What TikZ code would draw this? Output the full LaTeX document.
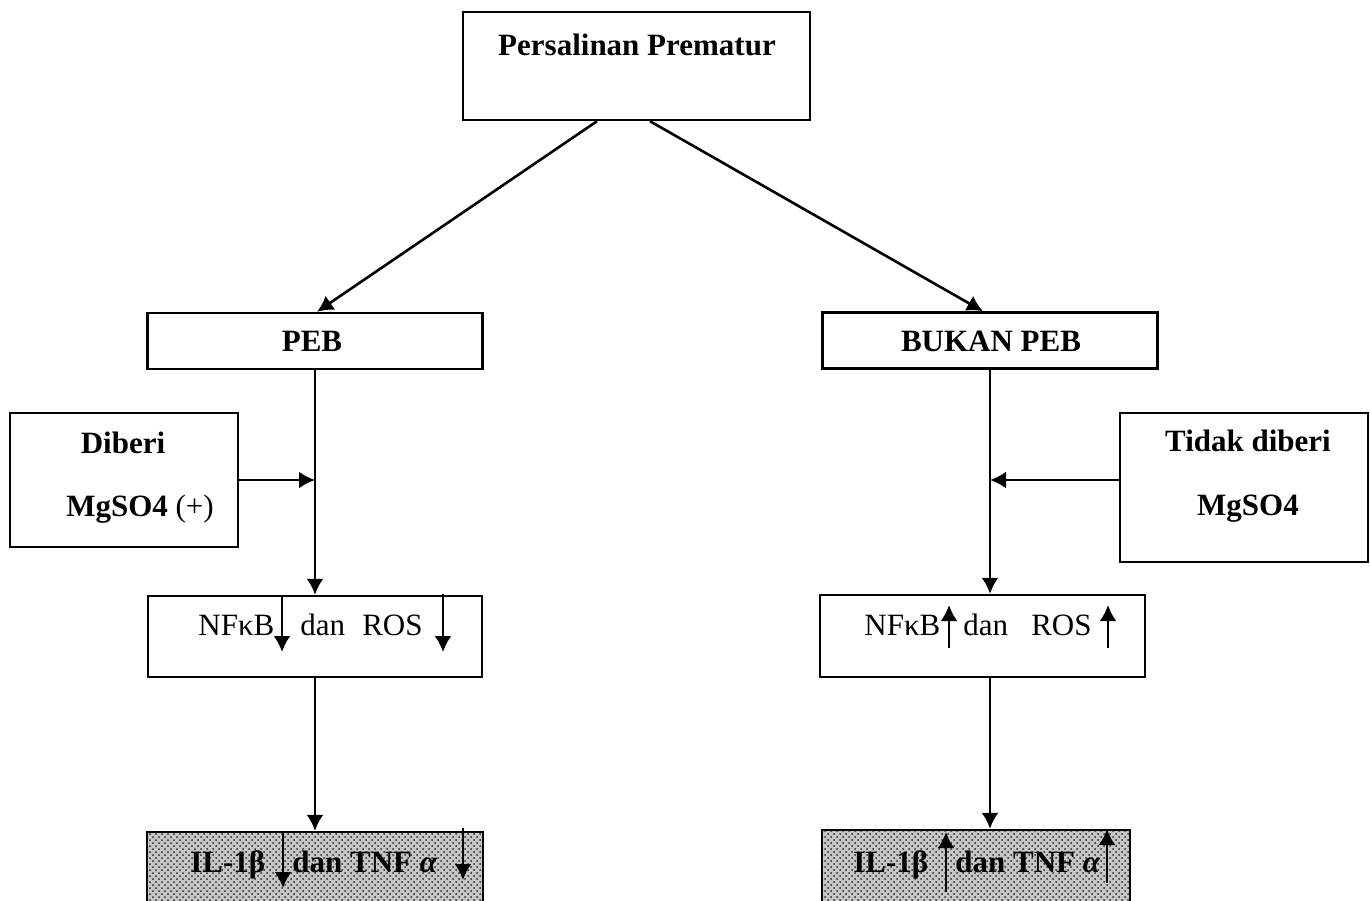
\documentclass[tikz,border=0pt]{standalone}
\usepackage{fontspec}
\setmainfont{Liberation Serif}
\usetikzlibrary{arrows.meta,patterns,calc}

\begin{document}
\begin{tikzpicture}[x=0.5pt,y=-0.5pt,
  kotak/.style={draw,line width=1.2pt,rectangle,inner sep=0pt},
  arsir/.style={kotak,fill=gray!45,postaction={pattern=crosshatch dots,pattern color=black!85}},
  teks/.style={font=\fontsize{15.5}{18}\selectfont,inner sep=0pt},
  panah/.style={line width=1.3pt,-{Latex[length=8pt,width=8.5pt]}}]
% Ukuran gambar
\useasboundingbox (0,0) rectangle (1370,900);
\clip (0,0) rectangle (1370,900);

% Kotak-kotak
\node[kotak,minimum width=173.5pt,minimum height=54pt] (top) at (636.5,66) {};
\node[kotak,minimum width=167.5pt,minimum height=28pt] (peb) at (315,341) {};
\node[kotak,minimum width=167.5pt,minimum height=28pt] (bukan) at (990,340.5) {};
\node[kotak,minimum width=114pt,minimum height=67pt] (diberi) at (124,480) {};
\node[kotak,minimum width=124pt,minimum height=74.5pt] (tidak) at (1244,487.5) {};
\node[kotak,minimum width=167pt,minimum height=40.5pt] (nfl) at (315,636.5) {};
\node[kotak,minimum width=162.5pt,minimum height=41pt] (nfr) at (982.5,636) {};
\node[arsir,minimum width=168pt,minimum height=39pt] (ill) at (315,871) {};
\node[arsir,minimum width=154pt,minimum height=40pt] (ilr) at (976,870) {};

% Teks
\node[teks,anchor=base] (tTop) at (637,55) {\textbf{Persalinan Prematur}};
\node[teks,anchor=base] (tPeb) at (312,351) {\textbf{PEB}};
\node[teks,anchor=base] (tBukan) at (991,351) {\textbf{BUKAN PEB}};
\node[teks,anchor=base] (tDiberi) at (123,453) {\textbf{Diberi}};
\node[teks,anchor=base] (tMgA) at (140,516) {\textbf{MgSO4} (+)};
\node[teks,anchor=base] (tTidak) at (1248,451) {\textbf{Tidak diberi}};
\node[teks,anchor=base] (tMgB) at (1248,515) {\textbf{MgSO4}};
\node[teks,anchor=base west] (nfA) at (198,635) {NFκB};
\node[teks,anchor=base west] (danA) at (300,635) {dan};
\node[teks,anchor=base east] (rosA) at (423,635) {ROS};
\node[teks,anchor=base west] (nfB) at (864,635) {NFκB};
\node[teks,anchor=base west] (danB) at (963,635) {dan};
\node[teks,anchor=base east] (rosB) at (1092,635) {ROS};
\node[teks,anchor=base west] (ilA) at (190,872) {\textbf{IL-1β}};
\node[teks,anchor=base west] (tnfA) at (292,872) {\textbf{dan TNF \textit{α}}};
\node[teks,anchor=base west] (ilB) at (853,872) {\textbf{IL-1β}};
\node[teks,anchor=base west] (tnfB) at (955,872) {\textbf{dan TNF \textit{α}}};

% Panah utama
\draw[panah] ($(top.south)+(-39.5,0)$) -- ($(peb.north)+(2,0)$);
\draw[panah] ($(top.south)+(13.5,0)$) -- ($(bukan.north)+(-7,0)$);
\draw[panah] (peb.south) -- (nfl.north);
\draw[panah] (nfl.south) -- (ill.north);
\draw[panah] (diberi.east) -- (diberi.east -| peb.south);
\coordinate (jR) at (990,480);
\draw[panah] (tidak.west |- jR) -- (jR);
\draw[panah] (bukan.south) -- (bukan.south |- nfr.north);
\draw[panah] (bukan.south |- nfr.south) -- (bukan.south |- ilr.north);

% Panah naik / turun
\foreach \xa/\ya/\yb in {282/596/652, 443/594/652, 949/648/605, 1108/648/605,
                         283/832/888, 463/828/880, 946/892/832, 1107/883/829} {
    \draw[panah] (\xa,\ya) -- (\xa,\yb);
}
\end{tikzpicture}
\end{document}
